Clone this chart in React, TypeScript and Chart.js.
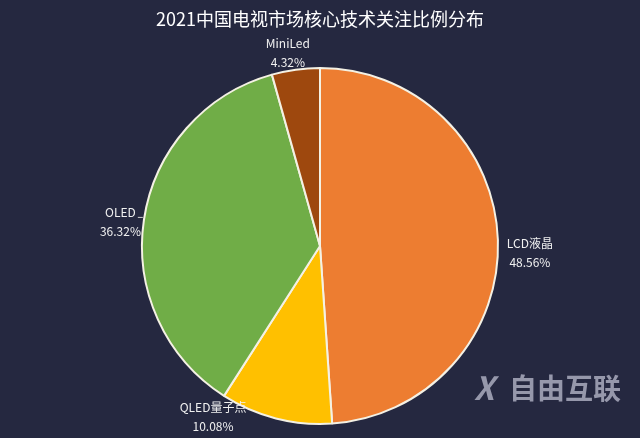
import React, { useEffect, useRef } from "react";
import { Chart, registerables } from "chart.js";

Chart.register(...registerables);

const title = "2021中国电视市场核心技术关注比例分布";
const categories = ["LCD液晶", "QLED量子点", "OLED", "MiniLed"];
const values = [48.56, 10.08, 36.32, 4.32];
const valueLabels = ["48.56%", "10.08%", "36.32%", "4.32%"];
const colors = ["#ED7D31", "#FFC000", "#70AD47", "#9E480E"];
const labelAngleShift = [3.7, 17.8, -1.6, -1.6];
const labelRadiusPad = [32, 23, 23, 18];

const BG = "#252840";

const decorPlugin = {
  id: "decor",
  beforeDraw(chart: any) {
    const { ctx, width, height } = chart;
    ctx.save();
    ctx.fillStyle = BG;
    ctx.fillRect(0, 0, width, height);
    ctx.restore();
  },
  afterDraw(chart: any) {
    const { ctx, width } = chart;
    ctx.save();
    ctx.fillStyle = "#FFFFFF";
    ctx.font = "18px 'Noto Sans CJK SC', 'Noto Sans', sans-serif";
    ctx.textAlign = "center";
    ctx.textBaseline = "middle";
    ctx.fillText(title, width / 2, 19);

    const meta = chart.getDatasetMeta(0);
    ctx.font = "12px 'Noto Sans CJK SC', 'Noto Sans', sans-serif";
    ctx.fillStyle = "#F0F0F0";
    meta.data.forEach((arc: any, i: number) => {
      const { x, y, startAngle, endAngle, outerRadius } = arc.getProps(
        ["x", "y", "startAngle", "endAngle", "outerRadius"],
        true
      );
      const mid = (startAngle + endAngle) / 2 + (labelAngleShift[i] * Math.PI) / 180;
      const r = outerRadius + labelRadiusPad[i];
      const lx = x + Math.cos(mid) * r;
      const ly = y + Math.sin(mid) * r;
      ctx.textAlign = "center";
      ctx.fillText(categories[i], lx, ly - 9);
      ctx.fillText(valueLabels[i], lx, ly + 10);
      if (i === 2) {
        const w = ctx.measureText(categories[i]).width;
        ctx.strokeStyle = "#D0D0D0";
        ctx.lineWidth = 1;
        ctx.beginPath();
        ctx.moveTo(lx + w / 2 + 2, ly - 4.5);
        ctx.lineTo(lx + w / 2 + 7, ly - 4.5);
        ctx.stroke();
      }
    });

    // watermark
    ctx.fillStyle = "rgba(170,172,190,0.85)";
    ctx.font = "italic bold 32px 'Noto Sans CJK SC', sans-serif";
    ctx.textAlign = "left";
    ctx.fillText("X", 474, 388);
    ctx.font = "bold 28px 'Noto Sans CJK SC', sans-serif";
    ctx.fillText("自由互联", 509, 388);
    ctx.restore();
  },
};

export default function App() {
  const ref = useRef<HTMLCanvasElement | null>(null);
  useEffect(() => {
    document.body.style.margin = "0";
    document.body.style.background = BG;
    const chart = new Chart(ref.current as HTMLCanvasElement, {
      type: "pie",
      data: {
        labels: categories,
        datasets: [
          {
            data: values,
            backgroundColor: colors,
            borderColor: "#F4F1E4",
            borderWidth: 2,
          },
        ],
      },
      options: {
        animation: false,
        responsive: false,
        layout: { padding: { top: 67, bottom: 13, left: 0, right: 0 } },
        plugins: {
          legend: { display: false },
          title: { display: false },
          tooltip: { enabled: false },
        },
      },
      plugins: [decorPlugin],
    });
    return () => chart.destroy();
  }, []);
  return (
    <div style={{ width: 640, height: 438 }}>
      <canvas ref={ref} width={640} height={438} style={{ display: "block" }} />
    </div>
  );
}
